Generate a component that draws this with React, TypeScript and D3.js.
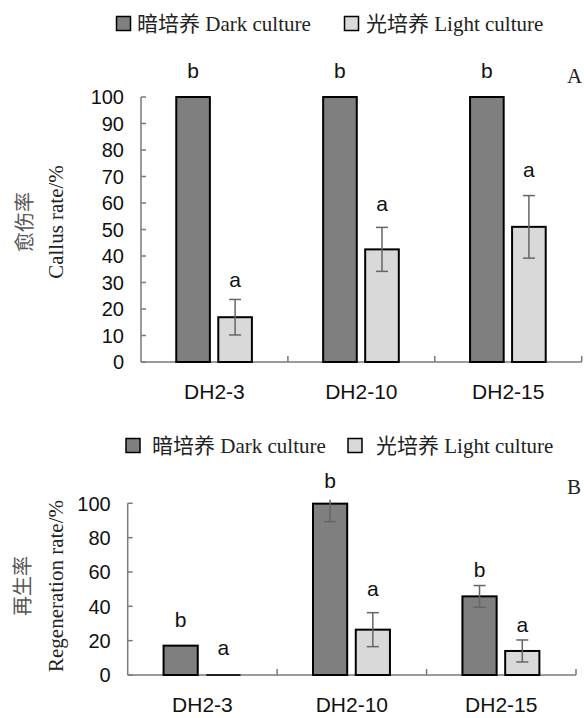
import React from 'react';
import * as d3 from 'd3';

const categories = ['DH2-3', 'DH2-10', 'DH2-15'];
const seriesKeys = ['dark', 'light'];
const seriesLabels = ['暗培养 Dark culture', '光培养 Light culture'];

// Panel A: callus rate
const callusDark = [100, 100, 100];
const callusDarkErr = [0, 0, 0];
const callusLight = [16.9, 42.5, 51];
const callusLightErr = [6.7, 8.3, 11.8];
const callusDarkLetters = ['b', 'b', 'b'];
const callusLightLetters = ['a', 'a', 'a'];
const callusDarkLetterAt = [107, 107, 107];
const callusLightLetterAt = [28.3, 57, 69.8];
const callusTicks = [0, 10, 20, 30, 40, 50, 60, 70, 80, 90, 100];

// Panel B: regeneration rate
const regenDark = [17.1, 99.8, 45.8];
const regenDarkErr = [0, 10.5, 6.3];
const regenLight = [0, 26.4, 14];
const regenLightErr = [0, 9.9, 6.4];
const regenDarkLetters = ['b', 'b', 'b'];
const regenLightLetters = ['a', 'a', 'a'];
const regenDarkLetterAt = [28, 109.2, 56.8];
const regenLightLetterAt = [11.6, 46.3, 25];
const regenTicks = [0, 20, 40, 60, 80, 100];

const COLORS: Record<string, string> = { dark: '#7f7f7f', light: '#d9d9d9' };
const AXIS = '#7a7a7a';
const ERR = '#666666';
const SANS = '"Liberation Sans", Arial, sans-serif';
const SERIF = '"Liberation Serif", "Times New Roman", "Noto Sans CJK SC", serif';

type PanelProps = {
  left: number; right: number; top: number; bottom: number;
  values: Record<string, number[]>;
  errs: Record<string, number[]>;
  letters: Record<string, string[]>;
  letterAt: Record<string, number[]>;
  ticks: number[];
  yLabelCn: string; yLabelEn: string;
  cnX: number; enX: number; labelY: number;
  panelTag: string; tagX: number; tagY: number;
  legendY: number; legendXs: number[]; legendTextXs: number[];
};

function Panel(p: PanelProps) {
  const x0 = d3.scaleBand<string>().domain(categories).range([p.left, p.right]).paddingInner(0).paddingOuter(0);
  const bw = x0.bandwidth();
  const x1 = d3.scaleBand<string>().domain(seriesKeys).range([bw * 0.24, bw * 0.755]).paddingInner(0.2);
  const y = d3.scaleLinear().domain([0, 100]).range([p.bottom, p.top]);
  const capW = 12;
  const yMaxDraw = 102;

  return (
    <g>
      {/* legend */}
      {seriesKeys.map((k, i) => (
        <g key={k}>
          <rect x={p.legendXs[i]} y={p.legendY - 14} width={14} height={14} fill={COLORS[k]} stroke="#000" strokeWidth={1.5} />
          <text x={p.legendTextXs[i]} y={p.legendY} fontFamily={SERIF} fontSize={21} fill="#222">{seriesLabels[i]}</text>
        </g>
      ))}
      {/* panel tag */}
      <text x={p.tagX} y={p.tagY} fontFamily={SERIF} fontSize={21} fill="#222">{p.panelTag}</text>
      {/* y label */}
      <text transform={`translate(${p.cnX},${p.labelY}) rotate(-90)`} textAnchor="middle" fontFamily={SERIF} fontSize={20} fill="#555">{p.yLabelCn}</text>
      <text transform={`translate(${p.enX},${p.labelY}) rotate(-90)`} textAnchor="middle" fontFamily={SERIF} fontSize={21} fill="#222">{p.yLabelEn}</text>
      {/* y axis */}
      <line x1={p.left} x2={p.left} y1={y(100)} y2={y(0)} stroke={AXIS} strokeWidth={1.5} />
      {p.ticks.map(t => (
        <g key={t}>
          <line x1={p.left} x2={p.left + 5} y1={y(t)} y2={y(t)} stroke={AXIS} strokeWidth={1.5} />
          <text x={p.left - 17} y={y(t)} dy="0.36em" textAnchor="end" fontFamily={SANS} fontSize={20} fill="#111">{t}</text>
        </g>
      ))}
      {/* x axis */}
      <line x1={p.left} x2={p.right} y1={y(0)} y2={y(0)} stroke={AXIS} strokeWidth={1.5} />
      {categories.map(c => (
        <line key={c} x1={(x0(c) as number) + bw} x2={(x0(c) as number) + bw} y1={y(0)} y2={y(0) - 6} stroke={AXIS} strokeWidth={1.5} />
      ))}
      {categories.map(c => (
        <text key={c} x={(x0(c) as number) + bw / 2} y={p.bottom + 37} textAnchor="middle" fontFamily={SANS} fontSize={21} fill="#111">{c}</text>
      ))}
      {/* bars */}
      {categories.map((c, ci) => seriesKeys.map(k => {
        const v = p.values[k][ci];
        const e = p.errs[k][ci];
        const bx = (x0(c) as number) + (x1(k) as number);
        const w = x1.bandwidth();
        const cx = bx + w / 2;
        const hiV = Math.min(v + e, yMaxDraw);
        const clipped = v + e > yMaxDraw;
        return (
          <g key={c + k}>
            {v > 0 ? (
              <rect x={bx} y={y(v)} width={w} height={y(0) - y(v)} fill={COLORS[k]} stroke="#000" strokeWidth={2} />
            ) : (
              <line x1={bx} x2={bx + w} y1={y(0)} y2={y(0)} stroke="#222" strokeWidth={2} />
            )}
            {e > 0 && (
              <g stroke={ERR} strokeWidth={1.5}>
                <line x1={cx} x2={cx} y1={y(hiV)} y2={y(v - e)} />
                {!clipped && <line x1={cx - capW / 2} x2={cx + capW / 2} y1={y(v + e)} y2={y(v + e)} />}
                <line x1={cx - capW / 2} x2={cx + capW / 2} y1={y(v - e)} y2={y(v - e)} />
              </g>
            )}
            <text x={cx} y={y(p.letterAt[k][ci])} textAnchor="middle" fontFamily={SANS} fontSize={21} fill="#111">{p.letters[k][ci]}</text>
          </g>
        );
      }))}
    </g>
  );
}

export default function App() {
  return (
    <svg width={584} height={718} style={{ position: 'absolute', left: 0, top: 0, background: '#fff' }}>
      <rect width={584} height={718} fill="#fff" />
      <Panel
        left={141} right={581.7} top={97} bottom={362}
        values={{ dark: callusDark, light: callusLight }}
        errs={{ dark: callusDarkErr, light: callusLightErr }}
        letters={{ dark: callusDarkLetters, light: callusLightLetters }}
        letterAt={{ dark: callusDarkLetterAt, light: callusLightLetterAt }}
        ticks={callusTicks}
        yLabelCn="愈伤率" yLabelEn="Callus rate/%"
        cnX={32} enX={63} labelY={222}
        panelTag="A" tagX={567} tagY={83}
        legendY={30.5} legendXs={[116.5, 344.5]} legendTextXs={[137, 366]}
      />
      <Panel
        left={127.7} right={576} top={503.3} bottom={675}
        values={{ dark: regenDark, light: regenLight }}
        errs={{ dark: regenDarkErr, light: regenLightErr }}
        letters={{ dark: regenDarkLetters, light: regenLightLetters }}
        letterAt={{ dark: regenDarkLetterAt, light: regenLightLetterAt }}
        ticks={regenTicks}
        yLabelCn="再生率" yLabelEn="Regeneration rate/%"
        cnX={30} enX={63} labelY={586}
        panelTag="B" tagX={567} tagY={494}
        legendY={452.5} legendXs={[126, 348]} legendTextXs={[152, 376]}
      />
    </svg>
  );
}
